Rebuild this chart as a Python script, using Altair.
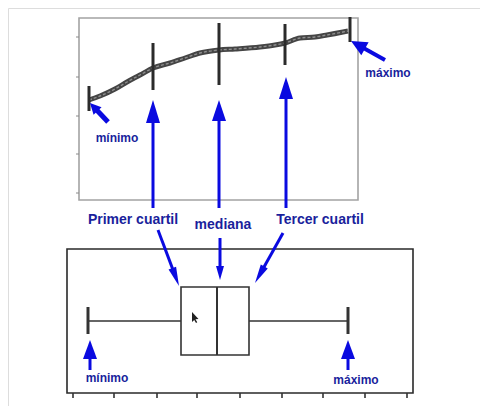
import math
import altair as alt
import pandas as pd

# ---------------- data (illustration coordinates, in page pixels) ----------------
# top panel: sorted data curve
curve_x = [89, 100, 115, 127, 140, 153, 170, 185, 200, 219, 235, 260, 275, 285, 300, 315, 327, 343, 348]
curve_y = [100, 96, 89, 82, 75, 68, 63, 58, 53, 50, 49, 47, 45, 43, 38, 37, 35, 32, 31]

# quartile tick marks on the curve (min, Q1, median, Q3, max)
qt_x = [89, 153, 219, 285, 350]
qt_y1 = [86, 43, 23, 24, 17]
qt_y2 = [111, 90, 85, 65, 42]

# panel frames [x1, y1, x2, y2]
frame_x1 = [79, 67]
frame_y1 = [18, 249]
frame_x2 = [358, 413]
frame_y2 = [200, 393]
frame_col = ["#a3a3a3", "#2a2a2a"]
left_ticks_y = [37, 77, 116, 154, 193]
bottom_ticks_x = [73, 114, 157, 197, 240, 282, 323, 365, 407]

# box plot stats (x positions)
bp_min, bp_q1, bp_med, bp_q3, bp_max = 88, 181, 217, 249, 348
bp_top, bp_bot, bp_mid = 287, 355, 321
cap_top, cap_bot = 307, 334

# mouse cursor
cursor_x, cursor_y = [192], [312]

# arrows
arrow_tail_x = [153, 219, 286, 108, 385, 158, 220, 283, 90, 348]
arrow_tail_y = [208, 208, 208, 122, 60, 230, 238, 233, 370, 370]
arrow_tip_x = [153, 219, 286, 90, 351, 179, 220, 255, 90, 348]
arrow_tip_y = [100, 100, 77, 103, 41, 286, 280, 283, 340, 340]
arrow_head_len = [23, 21, 22, 11, 16, 19, 14, 19, 19, 19]
arrow_head_w = [14, 14, 14, 11, 15, 8, 8, 8, 14, 14]
arrow_shaft_w = [3, 3, 3, 5, 4, 3, 3, 3, 3, 3]

# labels
label_text = ["mínimo", "máximo", "Primer cuartil", "mediana", "Tercer cuartil", "mínimo", "máximo"]
label_x = [117, 388, 133, 223, 320, 107, 356]
label_y = [138, 73, 220, 225, 220, 378, 380]
label_size = [12, 12, 14, 14, 14, 12, 12]

ARROW = "#0a0ae0"
TEXT = "#1a1f9c"
FONT = "Liberation Sans"

# ---------------- scales ----------------
W, H = 472, 398
xs = alt.Scale(domain=[8, 8 + W], range=[0, W], nice=False, zero=False)
ys = alt.Scale(domain=[8, 8 + H], range=[0, H], nice=False, zero=False)


def X(f="x"):
    return alt.X(f"{f}:Q", scale=xs, axis=None)


def Y(f="y"):
    return alt.Y(f"{f}:Q", scale=ys, axis=None)


# frames
frames = pd.DataFrame({"x": frame_x1, "y": frame_y1, "x2": frame_x2, "y2": frame_y2, "c": frame_col})
frame_layer = alt.Chart(frames).mark_rect(fill="transparent", strokeWidth=1.6).encode(
    x=X(), y=Y(), x2="x2:Q", y2="y2:Q", stroke=alt.Stroke("c:N", scale=None)
)

lt = pd.DataFrame({"x": [76] * len(left_ticks_y), "x2": [79] * len(left_ticks_y), "y": left_ticks_y})
lt_layer = alt.Chart(lt).mark_rule(color="#8a8a8a", strokeWidth=1).encode(x=X(), x2="x2:Q", y=Y())

bt = pd.DataFrame({"x": bottom_ticks_x, "y": [393] * len(bottom_ticks_x), "y2": [398] * len(bottom_ticks_x)})
bt_layer = alt.Chart(bt).mark_rule(color="#333333", strokeWidth=1.6).encode(x=X(), y=Y(), y2="y2:Q")

# curve
cv = pd.DataFrame({"x": curve_x, "y": curve_y, "o": range(len(curve_x))})
curve_layer = alt.Chart(cv).mark_line(color="#454545", strokeWidth=5, interpolate="monotone").encode(
    x=X(), y=Y(), order="o:Q"
)
curve_layer2 = alt.Chart(cv).mark_line(color="#8f8f8f", strokeWidth=1.4, interpolate="monotone", strokeDash=[3, 2]).encode(
    x=X(), y=Y(), order="o:Q"
)

qt = pd.DataFrame({"x": qt_x, "y": qt_y1, "y2": qt_y2})
qt_layer = alt.Chart(qt).mark_rule(color="#2b2b2b", strokeWidth=3).encode(x=X(), y=Y(), y2="y2:Q")

# box plot
box = pd.DataFrame({"x": [bp_q1], "x2": [bp_q3], "y": [bp_top], "y2": [bp_bot]})
box_layer = alt.Chart(box).mark_rect(fill="white", stroke="#333333", strokeWidth=1.6).encode(
    x=X(), x2="x2:Q", y=Y(), y2="y2:Q"
)
whisk = pd.DataFrame({
    "x": [bp_min, bp_q3, bp_med, bp_min, bp_max],
    "x2": [bp_q1, bp_max, bp_med, bp_min, bp_max],
    "y": [bp_mid, bp_mid, bp_top, cap_top, cap_top],
    "y2": [bp_mid, bp_mid, bp_bot, cap_bot, cap_bot],
    "w": [1.4, 1.4, 2, 3, 3],
})
whisk_layer = alt.Chart(whisk).mark_rule(color="#333333").encode(
    x=X(), x2="x2:Q", y=Y(), y2="y2:Q", strokeWidth=alt.StrokeWidth("w:Q", scale=None)
)

# mouse cursor (tip at the point)
cur = pd.DataFrame({"x": cursor_x, "y": cursor_y})
cursor_layer = alt.Chart(cur).mark_point(
    filled=True, color="#222222", opacity=1, size=100, strokeWidth=0,
    shape="M0,0L0,2L0.45,1.6L0.8,2.2L1.05,2.05L0.7,1.45L1.3,1.4Z"
).encode(x=X(), y=Y())

# arrows
R = 25.0  # symbol unit radius -> size = (2R)^2
shaft_rows, head_rows = [], []
for tx, ty, px, py, hl, hw, sw in zip(arrow_tail_x, arrow_tail_y, arrow_tip_x, arrow_tip_y,
                                      arrow_head_len, arrow_head_w, arrow_shaft_w):
    dx, dy = px - tx, py - ty
    L = math.hypot(dx, dy)
    ux, uy = dx / L, dy / L
    ex, ey = px - ux * hl * 0.7, py - uy * hl * 0.7
    shaft_rows.append({"x": tx, "y": ty, "x2": ex, "y2": ey, "w": sw})
    ang = math.degrees(math.atan2(dx, -dy)) % 360
    path = f"M0,0L{-hw / 2 / R:.4f},{hl / R:.4f}L{hw / 2 / R:.4f},{hl / R:.4f}Z"
    head_rows.append({"x": px, "y": py, "a": ang, "p": path})

shaft_layer = alt.Chart(pd.DataFrame(shaft_rows)).mark_rule(color=ARROW).encode(
    x=X(), y=Y(), x2="x2:Q", y2="y2:Q", strokeWidth=alt.StrokeWidth("w:Q", scale=None)
)
head_layer = alt.Chart(pd.DataFrame(head_rows)).mark_point(
    filled=True, color=ARROW, opacity=1, size=(2 * R) ** 2, strokeWidth=0
).encode(
    x=X(), y=Y(), angle=alt.Angle("a:Q", scale=None), shape=alt.Shape("p:N", scale=None)
)

# labels
lb = pd.DataFrame({"t": label_text, "x": label_x, "y": label_y, "s": label_size})
label_layer = alt.Chart(lb).mark_text(
    font=FONT, fontWeight="bold", color=TEXT, align="center", baseline="middle"
).encode(x=X(), y=Y(), text="t:N", size=alt.Size("s:Q", scale=None))

chart = alt.layer(
    frame_layer, lt_layer, bt_layer, curve_layer, curve_layer2, qt_layer,
    box_layer, whisk_layer, cursor_layer, shaft_layer, head_layer, label_layer
).properties(
    width=W, height=H, padding=0, autosize=alt.AutoSizeParams(type="none")
).configure_view(stroke="transparent").configure(background="transparent")

chart.save("out.html", embed_options={"renderer": "svg", "actions": False})
